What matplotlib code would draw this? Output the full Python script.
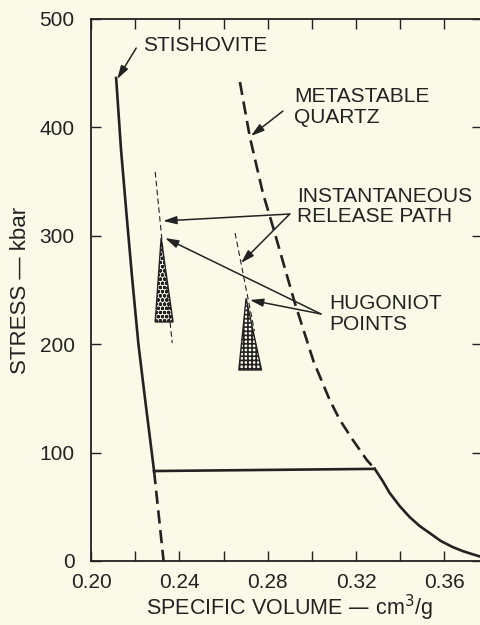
import matplotlib.pyplot as plt
from matplotlib.ticker import MultipleLocator

plt.rcParams['font.family'] = ['Liberation Sans', 'DejaVu Sans']
plt.rcParams['hatch.linewidth'] = 1.2

# stishovite branch (solid), then mixed phase plateau, then quartz release
stish_v = [0.2113, 0.2135, 0.2160, 0.2186, 0.2214, 0.2245, 0.2285]
stish_p = [445.6, 380.0, 320.0, 260.0, 200.0, 148.0, 83.0]
plateau_v = [0.2285, 0.3285]
plateau_p = [83.0, 85.0]
release_v = [0.3285, 0.3321, 0.3353, 0.3398, 0.3443, 0.3489, 0.3534, 0.3584, 0.3638, 0.3683, 0.3729, 0.3773]
release_p = [85.0, 73.8, 62.7, 50.7, 40.6, 32.2, 25.8, 18.5, 12.9, 9.2, 6.2, 3.5]

# metastable quartz (dashed)
quartz_v = [0.2674, 0.2719, 0.2778, 0.2824, 0.2923, 0.3008, 0.3081, 0.3127, 0.3186, 0.3249, 0.3285]
quartz_p = [441.9, 391.1, 339.5, 308.1, 238.0, 184.0, 148.5, 130.1, 111.6, 93.2, 85.0]
stish_ext_v = [0.2285, 0.2328]
stish_ext_p = [83.0, 0.0]

# instantaneous release paths (thin dashed)
path1_v = [0.2290, 0.2367]
path1_p = [358.9, 201.0]
path2_v = [0.2652, 0.2740]
path2_p = [302.6, 212.0]

# hugoniot point spreads (triangles)
tri1_v = [0.2317, 0.2290, 0.2371]
tri1_p = [298.0, 220.5, 220.5]
tri2_v = [0.2702, 0.2669, 0.2772]
tri2_p = [242.3, 176.2, 176.2]

bg = "#fbf9e8"
ink = "#222222"

fig = plt.figure(figsize=(4.8, 6.25), dpi=100, facecolor=bg)
ax = fig.add_axes([0.19, 0.1024, 0.815, 0.8672])
ax.set_facecolor(bg)

ax.plot(stish_v, stish_p, color=ink, lw=1.9)
ax.plot(plateau_v, plateau_p, color=ink, lw=1.9)
ax.plot(release_v, release_p, color=ink, lw=1.9)
ax.plot(quartz_v, quartz_p, color=ink, lw=1.9, dashes=(5, 2.5))
ax.plot(stish_ext_v, stish_ext_p, color=ink, lw=1.9, dashes=(5, 2.5))
ax.plot(path1_v, path1_p, color=ink, lw=0.8, dashes=(5, 3))
ax.plot(path2_v, path2_p, color=ink, lw=0.8, dashes=(5, 3))

ax.fill(tri1_v, tri1_p, facecolor="none", edgecolor=ink, hatch="oooo", lw=1.0)
ax.fill(tri2_v, tri2_p, facecolor="none", edgecolor=ink, hatch="++++", lw=1.0)

arrow = dict(arrowstyle="-|>,head_length=0.5,head_width=0.15", color=ink, lw=1.1,
             mutation_scale=16, shrinkA=0, shrinkB=0)
fs = 15

ax.annotate("", xy=(0.2118, 444.6), xytext=(0.2204, 473.2), arrowprops=arrow)
ax.text(0.2235, 476, "STISHOVITE", fontsize=fs, color=ink, va="center", ha="left")

ax.annotate("", xy=(0.2724, 392.1), xytext=(0.2869, 415.1), arrowprops=arrow)
ax.text(0.2919, 419, "METASTABLE\nQUARTZ", fontsize=fs, color=ink, va="center", ha="left", linespacing=1.1)

ax.annotate("", xy=(0.2326, 313.7), xytext=(0.2900, 320.1), arrowprops=arrow)
ax.annotate("", xy=(0.2679, 274.9), xytext=(0.2900, 320.1), arrowprops=arrow)
ax.text(0.2932, 327, "INSTANTANEOUS\nRELEASE PATH", fontsize=fs, color=ink, va="center", ha="left", linespacing=1.1)

ax.annotate("", xy=(0.2335, 298.0), xytext=(0.3041, 227.9), arrowprops=arrow)
ax.annotate("", xy=(0.2719, 240.8), xytext=(0.3041, 227.9), arrowprops=arrow)
ax.text(0.3081, 228, "HUGONIOT\nPOINTS", fontsize=fs, color=ink, va="center", ha="left", linespacing=1.1)

ax.set_xlim(0.20, 0.3773)
ax.set_ylim(0, 500)
ax.xaxis.set_minor_locator(MultipleLocator(0.02))
ax.yaxis.set_major_locator(MultipleLocator(100))
ax.set_xticks([0.20, 0.24, 0.28, 0.32, 0.36])
ax.set_xticklabels(["0.20", "0.24", "0.28", "0.32", "0.36"])
ax.tick_params(which="both", direction="in", top=True, right=True, length=7, width=1.0, color=ink)
ax.tick_params(axis="x", pad=9, labelsize=15, labelcolor=ink)
ax.tick_params(axis="y", pad=12, labelsize=15, labelcolor=ink)
for s in ax.spines.values():
    s.set_color(ink)
    s.set_linewidth(1.3)

fig.text(0.604, 0.015, "SPECIFIC VOLUME — cm$^3$/g", fontsize=15.5, color=ink,
         ha="center", va="baseline")
ax.set_ylabel("STRESS — kbar", fontsize=16, color=ink, labelpad=6)

fig.savefig("out.png", dpi=100, facecolor=bg)
